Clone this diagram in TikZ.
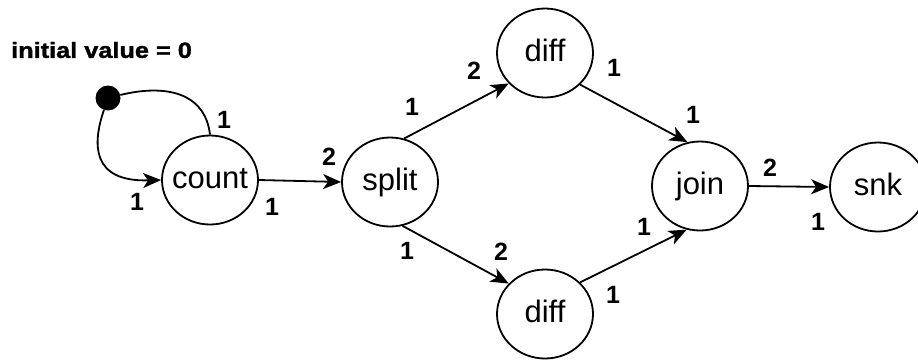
\documentclass[tikz,border=0pt]{standalone}
\usepackage{fontspec}
\setmainfont{Liberation Sans}
\newfontfamily\notefont[FakeStretch=1.15,FakeBold=1.5]{Liberation Sans}
\usepackage{tikz}
\usetikzlibrary{shapes.geometric,arrows.meta}

\begin{document}
\begin{tikzpicture}[x=1pt,y=-1pt,
    actor/.style={ellipse,draw,line width=1.8pt,minimum width=96pt,minimum height=89pt,
        inner xsep=-5pt,inner ysep=0pt,text height=22pt,text depth=6pt,
        font=\fontsize{31}{34}\selectfont},
    token/.style={circle,fill,minimum size=25pt,inner sep=0pt},
    rate/.style={inner sep=0pt,font=\fontsize{25}{28}\selectfont\bfseries},
    flow/.style={line width=1.8pt,-{Stealth[length=18pt,width=15pt,inset=5pt]}}]
    \useasboundingbox (0,0) rectangle (918,360);

    % Draw the initial value note
    \node[anchor=west,inner sep=0pt,font=\notefont\fontsize{22}{25}\selectfont\bfseries] (init) at (11,50) {initial value = 0};

    % Draw the actors
    \node[actor] (count) at (210,180) {count};
    \node[actor] (split) at (390,182) {split};
    \node[actor] (diffup) at (545,53) {diff};
    \node[actor] (difflo) at (545,314) {diff};
    \node[actor] (join) at (700,186) {join};
    \node[actor] (snk) at (878,187) {snk};

    % Draw the self loop with its token
    \node[token] (token) at (108,98) {};
    \draw[line width=1.8pt] (count.north) .. controls (205,92) and (165,84) .. (token);
    \draw[flow] (token) .. controls (92,145) and (92,182) .. (count.west);

    % Draw the channels
    \draw[flow] (count.east) -- (split.west);
    \draw[flow] (split.72) -- (diffup.220);
    \draw[flow] (split.286) -- (difflo.140);
    \draw[flow] (diffup.318) -- (join.106);
    \draw[flow] (difflo.42) -- (join.253);
    \draw[flow] (join.east) -- (snk.west);

    % Draw the rates
    \node[rate] (loopout) at (224,120) {1};
    \node[rate] (loopin) at (137,202) {1};
    \node[rate] (countout) at (272,207) {1};
    \node[rate] (splitin) at (329,157) {2};
    \node[rate] (splitup) at (412,107) {1};
    \node[rate] (diffupin) at (474,71) {2};
    \node[rate] (diffupout) at (614,68) {1};
    \node[rate] (joinup) at (693,115) {1};
    \node[rate] (splitlo) at (407,251) {1};
    \node[rate] (diffloin) at (501,252) {2};
    \node[rate] (diffloout) at (613,295) {1};
    \node[rate] (joinlo) at (644,227) {1};
    \node[rate] (joinout) at (770,168) {2};
    \node[rate] (snkin) at (818,222) {1};
\end{tikzpicture}
\end{document}
